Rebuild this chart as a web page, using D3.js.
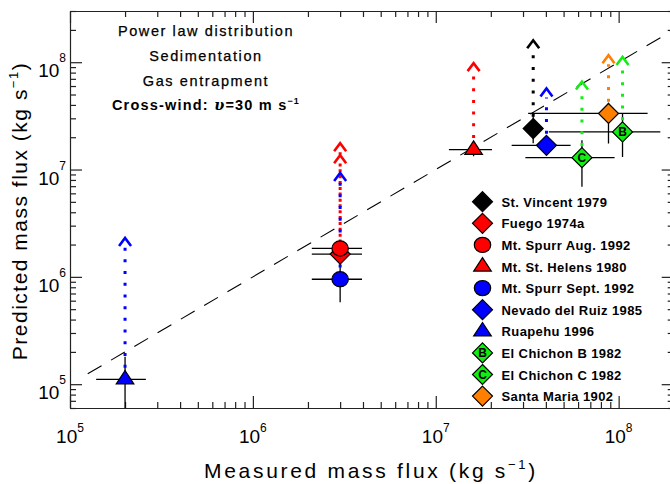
<!DOCTYPE html>
<html><head><meta charset="utf-8">
<script src="https://cdn.jsdelivr.net/npm/d3@7"></script>
<style>
body{margin:0;background:#fff}
svg{display:block;font-family:"Liberation Sans",Arial,sans-serif}
.ax path,.ax line{stroke:#222;stroke-width:1.2}
</style>
</head><body><svg id="c" width="670" height="484"></svg>
<script>
// ---------------- data ----------------
const names = ["St. Vincent 1979","Fuego 1974a","Mt. Spurr Aug. 1992","Mt. St. Helens 1980","Mt. Spurr Sept. 1992","Nevado del Ruiz 1985","Ruapehu 1996","El Chichon B 1982","El Chichon C 1982","Santa Maria 1902"];
const colors = ["#000000","#ff0000","#ff0000","#ff0000","#0000ff","#0000ff","#0000ff","#11ee11","#11ee11","#ff7f00"];
const symbols = ["diamond","diamond","circle","triangle","circle","diamond","triangle","diamond","diamond","diamond"];
const innerLetters = ["","","","","","","","B","C",""];
const measured   = [3.41e7, 3.0e6, 3.0e6, 1.61e7, 3.0e6, 4.03e7, 2.0e5, 1.05e8, 6.3e7, 8.8e7];
const measuredLo = [3.1e7, 2.1e6, 2.1e6, 1.18e7, 2.1e6, 2.6e7, 1.39e5, 4.15e7, 3.09e7, 3.2e7];
const measuredHi = [3.75e7, 3.95e6, 3.95e6, 2.03e7, 3.95e6, 5.46e7, 2.6e5, 1.69e8, 9.5e7, 1.44e8];
const predicted   = [2.41e7, 1.63e6, 1.84e6, 1.53e7, 9.5e5, 1.68e7, 1.11e5, 2.24e7, 1.29e7, 3.33e7];
const predictedLo = [1.76e7, 1.34e6, 1.6e6, 1.33e7, 5.8e5, 1.68e7, 4.0e4, 1.31e7, 6.9e6, 1.75e7];
const predictedHi = [3.42e7, 1.9e6, 2.1e6, 1.75e7, 1.34e6, 1.68e7, 1.8e5, 3.33e7, 1.87e7, 4.2e7];
const upperBound  = [1.6e8, 1.36e7, 1.76e7, 9.8e7, 9.3e6, 5.7e7, 2.3e6, 1.12e8, 6.6e7, 1.16e8];
const xMajorTicks = [1e5, 1e6, 1e7, 1e8];
const yMajorTicks = [1e5, 1e6, 1e7, 1e8];
const xTickLabels = ["5","6","7","8"];
const yTickLabels = ["5","6","7","8"];
const noteLines = ["Power law distribution","Sedimentation","Gas entrapment"];

// ---------------- layout ----------------
const L = 70, R = 673.7, T = 11, B = 408;
const x = d3.scaleLog().domain([1e5, 2e8]).range([L, R]);
const y = d3.scaleLog().domain([6e4, 3e8]).range([B, T]);
const svg = d3.select("#c");

function minors(lo, hi){
  const out=[];
  for(let e=4;e<=8;e++) for(let k=2;k<=9;k++){const v=k*Math.pow(10,e); if(v>=lo*0.999 && v<=hi*1.001) out.push(v);}
  return out;
}
const xMinor = minors(1e5, 2e8), yMinor = minors(6e4, 3e8);

svg.append("defs").append("clipPath").attr("id","clip")
  .append("rect").attr("x",L).attr("y",T).attr("width",R-L).attr("height",B-T);

function axisPair(make, tr, major, minor){
  const g = svg.append("g").attr("class","ax").attr("transform",tr);
  g.call(make().tickValues(major).tickSize(-12).tickSizeOuter(0).tickFormat(""));
  const g2 = svg.append("g").attr("class","ax").attr("transform",tr);
  g2.call(make().tickValues(minor).tickSize(-6).tickSizeOuter(0).tickFormat(""));
  g2.select(".domain").remove();
}
axisPair(()=>d3.axisBottom(x), `translate(0,${B})`, xMajorTicks, xMinor);
axisPair(()=>d3.axisTop(x), `translate(0,${T})`, xMajorTicks, xMinor);
axisPair(()=>d3.axisLeft(y), `translate(${L},0)`, yMajorTicks, yMinor);
axisPair(()=>d3.axisRight(y), `translate(${R},0)`, yMajorTicks, yMinor);

xMajorTicks.forEach((v,i)=>{
  const t = svg.append("text").attr("x",x(v)).attr("y",443).attr("text-anchor","middle")
    .attr("font-size",19).attr("fill","#000");
  t.append("tspan").text("10");
  t.append("tspan").attr("font-size",12).attr("dy",-11).text(xTickLabels[i]);
});
yMajorTicks.forEach((v,i)=>{
  const t = svg.append("text").attr("x",66).attr("y",y(v)+15).attr("text-anchor","end")
    .attr("font-size",19).attr("fill","#000");
  t.append("tspan").text("10");
  t.append("tspan").attr("font-size",12).attr("dy",-15).text(yTickLabels[i]);
});

const xt = svg.append("text").attr("x",371).attr("y",478).attr("text-anchor","middle")
  .attr("font-size",21).attr("letter-spacing",2.7);
xt.append("tspan").text("Measured mass flux (kg s");
xt.append("tspan").attr("font-size",13).attr("dy",-9).text("\u22121");
xt.append("tspan").attr("dy",9).text(")");
const yt = svg.append("text").attr("transform","translate(27,211) rotate(-90)").attr("text-anchor","middle")
  .attr("font-size",21).attr("letter-spacing",1.5);
yt.append("tspan").text("Predicted mass flux (kg s");
yt.append("tspan").attr("font-size",13).attr("dy",-9).text("\u22121");
yt.append("tspan").attr("dy",9).text(")");

noteLines.forEach((s,i)=>{
  svg.append("text").attr("x",206).attr("y",36+i*25).attr("text-anchor","middle")
    .attr("font-size",14.5).attr("letter-spacing",1.6).attr("stroke","#000").attr("stroke-width",0.25).text(s);
});
const cw = svg.append("text").attr("x",206).attr("y",110).attr("text-anchor","middle")
  .attr("font-size",14.5).attr("font-weight","bold").attr("letter-spacing",1.2);
cw.append("tspan").text("Cross-wind: ");
cw.append("tspan").attr("font-style","italic").attr("font-family","DejaVu Serif").text("\u03c5");
cw.append("tspan").text("=30 m s");
cw.append("tspan").attr("font-size",9).attr("dy",-6).text("\u22121");

const P = svg.append("g").attr("clip-path","url(#clip)");
P.append("line").attr("x1",x(1.25e5)).attr("y1",y(1.25e5)).attr("x2",x(2e8)).attr("y2",y(2e8))
  .attr("stroke","#000").attr("stroke-width",1.1).attr("stroke-dasharray","16,11");

const idx = d3.range(names.length);
idx.forEach(i=>{
  P.append("line").attr("x1",x(measuredLo[i])).attr("x2",x(measuredHi[i]))
    .attr("y1",y(predicted[i])).attr("y2",y(predicted[i])).attr("stroke","#000").attr("stroke-width",1.3);
  if(predictedHi[i]!==predictedLo[i])
  P.append("line").attr("x1",x(measured[i])).attr("x2",x(measured[i]))
    .attr("y1",y(predictedLo[i])).attr("y2",y(predictedHi[i])).attr("stroke","#000").attr("stroke-width",1.3);
});
idx.forEach(i=>{
  const xx = x(measured[i]), yTip = y(upperBound[i]);
  P.append("line").attr("x1",xx).attr("x2",xx).attr("y1",y(predicted[i])).attr("y2",yTip+9)
    .attr("stroke",colors[i]).attr("stroke-width",3).attr("stroke-dasharray","3,8.7");
  P.append("path").attr("d",`M${xx-6},${yTip+8}L${xx},${yTip}L${xx+6},${yTip+8}`)
    .attr("fill","none").attr("stroke",colors[i]).attr("stroke-width",2.6);
});

function drawMarker(g, sym, cx, cy, col, letter){
  let el;
  if(sym==="diamond") el = g.append("path").attr("d",`M${cx},${cy-10}L${cx+10},${cy}L${cx},${cy+10}L${cx-10},${cy}Z`);
  else if(sym==="circle") el = g.append("ellipse").attr("cx",cx).attr("cy",cy).attr("rx",8.2).attr("ry",7.6);
  else el = g.append("path").attr("d",`M${cx},${cy-8.8}L${cx+8.8},${cy+4.6}L${cx-8.8},${cy+4.6}Z`);
  el.attr("fill",col).attr("stroke","#000").attr("stroke-width",1.2);
  if(letter) g.append("text").attr("x",cx).attr("y",cy+4.5).attr("text-anchor","middle")
    .attr("font-size",12).attr("font-weight","bold").text(letter);
}
idx.forEach(i=> drawMarker(P, symbols[i], x(measured[i]), y(predicted[i]), colors[i], innerLetters[i]));

idx.forEach(i=>{
  const ly = 201.7 + i*21.6;
  drawMarker(svg, symbols[i], 482.5, ly, colors[i], innerLetters[i]);
  svg.append("text").attr("x",501.5).attr("y",ly+5).attr("font-size",13).attr("font-weight","bold")
    .attr("letter-spacing",0.4).text(names[i]);
});
</script></body></html>
